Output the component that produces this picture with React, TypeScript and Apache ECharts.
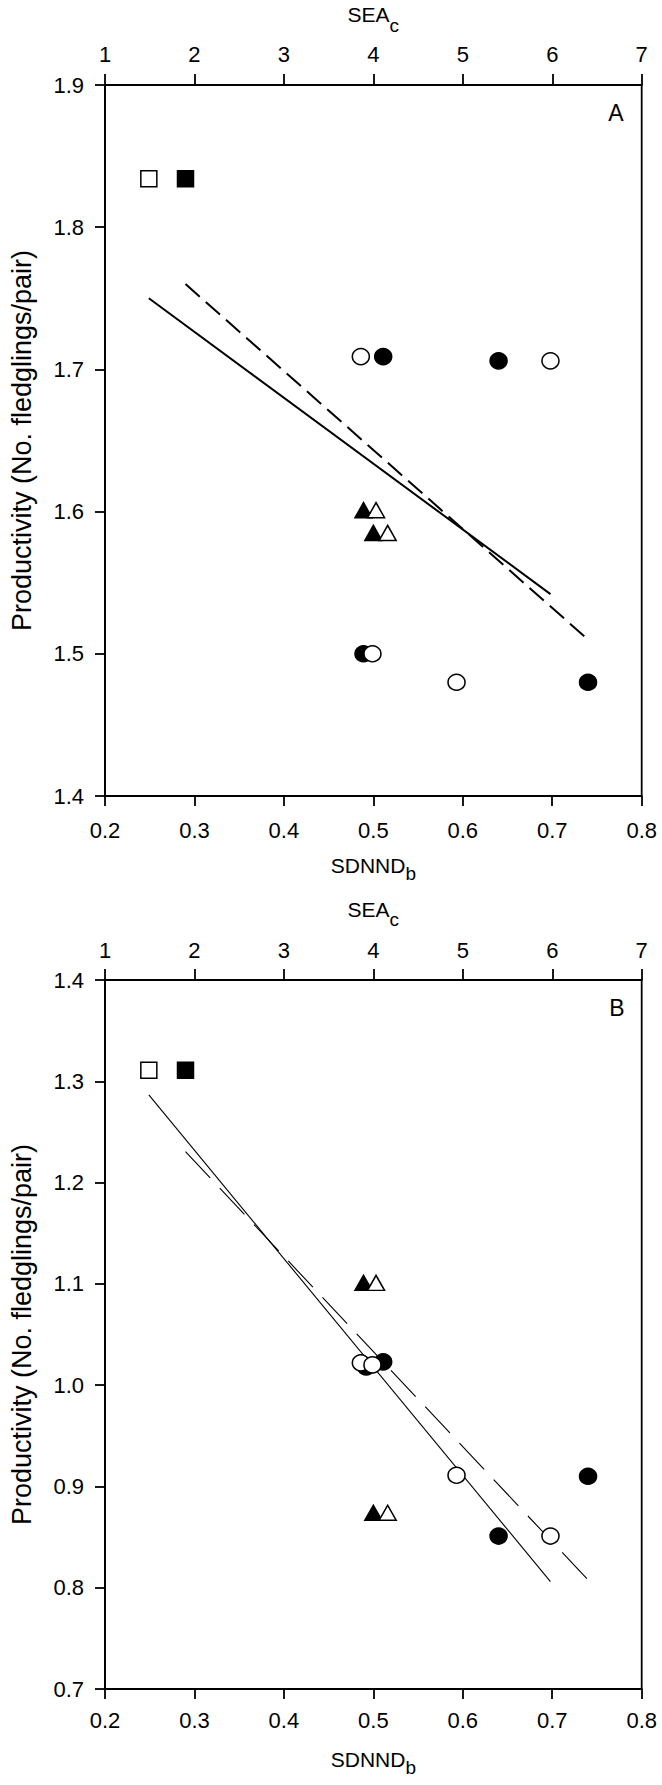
import React, { useEffect, useRef } from "react";
import * as echarts from "echarts";

const FONT = "'Liberation Sans', Arial, sans-serif";

// Axis ranges / ticks
const sdnndRange = [0.2, 0.8];
const sdnndStep = 0.1;
const seaRange = [1, 7];
const seaStep = 1;
const prodRangeA = [1.4, 1.9];
const prodRangeB = [0.7, 1.4];
const prodStep = 0.1;

// Panel A — filled symbols plotted on SDNND_b (bottom axis)
const aFilledSquare = [[0.29, 1.834]];
const aFilledTriangle = [[0.489, 1.601], [0.5, 1.585]];
const aFilledCircle = [[0.511, 1.709], [0.64, 1.706], [0.489, 1.5], [0.74, 1.48]];
// Panel A — open symbols plotted on SEA_c (top axis)
const aOpenSquare = [[1.49, 1.834]];
const aOpenTriangle = [[4.03, 1.601], [4.16, 1.585]];
const aOpenCircle = [[3.86, 1.709], [5.98, 1.706], [3.99, 1.5], [4.93, 1.48]];
// Panel A — regression lines
const aSeaFit = [[1.49, 1.75], [5.98, 1.542]];
const aSdnndFit = [[0.29, 1.76], [0.74, 1.51]];

// Panel B — filled symbols (SDNND_b)
const bFilledSquare = [[0.29, 1.311]];
const bFilledTriangle = [[0.489, 1.101], [0.5, 0.874]];
const bFilledCircle = [[0.492, 1.018], [0.511, 1.023], [0.64, 0.851], [0.74, 0.91]];
// Panel B — open symbols (SEA_c)
const bOpenSquare = [[1.49, 1.311]];
const bOpenTriangle = [[4.03, 1.101], [4.16, 0.874]];
const bOpenCircle = [[3.86, 1.022], [3.99, 1.02], [5.98, 0.851], [4.93, 0.911]];
// Panel B — regression lines
const bSeaFit = [[1.49, 1.2865], [5.98, 0.806]];
const bSdnndFit = [[0.29, 1.2305], [0.74, 0.8077]];

const panelLabels = ["A", "B"];
const yTitle = "Productivity (No. fledglings/pair)";

const BLACK = "#000";
const AXW = 1.8;
const TICK_FS = 22;
const NAME_FS = 21;
const SUB_FS = 19;

function bottomAxis(gridIndex: number, margin: number, gap: number) {
  return {
    type: "value",
    gridIndex,
    position: "bottom",
    min: sdnndRange[0],
    max: sdnndRange[1],
    interval: sdnndStep,
    axisLine: { show: true, onZero: false, lineStyle: { color: BLACK, width: AXW } },
    axisTick: { show: true, inside: false, length: 10, lineStyle: { color: BLACK, width: AXW } },
    axisLabel: {
      margin,
      color: BLACK,
      fontSize: TICK_FS,
      fontFamily: FONT,
      formatter: (v: number) => v.toFixed(1),
    },
    splitLine: { show: false },
    name: "{m|SDNND}{s|b}",
    nameLocation: "middle",
    nameGap: gap,
    nameTextStyle: {
      color: BLACK,
      rich: {
        m: { fontSize: NAME_FS, fontFamily: FONT, color: BLACK },
        s: { fontSize: SUB_FS, fontFamily: FONT, color: BLACK, padding: [16, 0, 0, 0] },
      },
    },
  };
}

function topAxis(gridIndex: number, margin: number, gap: number) {
  return {
    type: "value",
    gridIndex,
    position: "top",
    min: seaRange[0],
    max: seaRange[1],
    interval: seaStep,
    axisLine: { show: true, onZero: false, lineStyle: { color: BLACK, width: AXW } },
    axisTick: { show: true, inside: false, length: 11, lineStyle: { color: BLACK, width: AXW } },
    axisLabel: {
      margin,
      color: BLACK,
      fontSize: TICK_FS,
      fontFamily: FONT,
      formatter: (v: number) => String(Math.round(v)),
    },
    splitLine: { show: false },
    name: "{m|SEA}{s|c}",
    nameLocation: "middle",
    nameGap: gap,
    nameTextStyle: {
      color: BLACK,
      rich: {
        m: { fontSize: NAME_FS, fontFamily: FONT, color: BLACK },
        s: { fontSize: SUB_FS, fontFamily: FONT, color: BLACK, padding: [21, 0, 0, 0] },
      },
    },
  };
}

function leftAxis(gridIndex: number, range: number[]) {
  return {
    type: "value",
    gridIndex,
    position: "left",
    min: range[0],
    max: range[1],
    interval: prodStep,
    axisLine: { show: true, onZero: false, lineStyle: { color: BLACK, width: AXW } },
    axisTick: { show: true, inside: false, length: 10, lineStyle: { color: BLACK, width: AXW } },
    axisLabel: {
      margin: 21,
      color: BLACK,
      fontSize: TICK_FS,
      fontFamily: FONT,
      formatter: (v: number) => v.toFixed(1),
    },
    splitLine: { show: false },
    name: yTitle,
    nameLocation: "middle",
    nameGap: 70,
    nameTextStyle: { color: BLACK, fontSize: 27, fontFamily: FONT },
  };
}

function scatter(
  data: number[][],
  xAxisIndex: number,
  yAxisIndex: number,
  symbol: string,
  size: number[],
  filled: boolean
) {
  return {
    type: "scatter",
    data,
    xAxisIndex,
    yAxisIndex,
    symbol,
    symbolSize: size,
    silent: true,
    z: filled ? 3 : 4,
    itemStyle: {
      color: filled ? BLACK : "#fff",
      borderColor: BLACK,
      borderWidth: 1.5,
      opacity: 1,
    },
  };
}

function fitLine(
  data: number[][],
  xAxisIndex: number,
  yAxisIndex: number,
  type: any,
  width: number
) {
  return {
    type: "line",
    data,
    xAxisIndex,
    yAxisIndex,
    symbol: "none",
    silent: true,
    z: 2,
    lineStyle: { color: BLACK, width, type },
  };
}

const SQ = [16, 16];
const TRI = [17, 15];
const CIR = [17, 16];

export default function App() {
  const ref = useRef<HTMLDivElement>(null);

  useEffect(() => {
    if (!ref.current) return;
    const chart = echarts.init(ref.current, undefined, { renderer: "svg" });
    const option: any = {
      animation: false,
      backgroundColor: "#fff",
      grid: [
        { left: 96, top: 85, width: 545.7, height: 711, show: true, borderColor: BLACK, borderWidth: AXW, backgroundColor: "transparent" },
        { left: 96, top: 980, width: 545.7, height: 709, show: true, borderColor: BLACK, borderWidth: AXW, backgroundColor: "transparent" },
      ],
      xAxis: [bottomAxis(0, 23, 52), topAxis(0, 20, 50.5), bottomAxis(1, 20, 52.5), topAxis(1, 19, 51)],
      yAxis: [leftAxis(0, prodRangeA), leftAxis(1, prodRangeB)],
      series: [
        // Panel A
        fitLine(aSeaFit, 1, 0, "solid", 2),
        fitLine(aSdnndFit, 0, 0, [19, 8], 2),
        scatter(aFilledSquare, 0, 0, "rect", SQ, true),
        scatter(aFilledTriangle, 0, 0, "triangle", TRI, true),
        scatter(aFilledCircle, 0, 0, "circle", CIR, true),
        scatter(aOpenSquare, 1, 0, "rect", SQ, false),
        scatter(aOpenTriangle, 1, 0, "triangle", TRI, false),
        scatter(aOpenCircle, 1, 0, "circle", CIR, false),
        // Panel B
        fitLine(bSeaFit, 3, 1, "solid", 1.1),
        fitLine(bSdnndFit, 2, 1, [36, 14], 1.1),
        scatter(bFilledSquare, 2, 1, "rect", SQ, true),
        scatter(bFilledTriangle, 2, 1, "triangle", TRI, true),
        scatter(bFilledCircle, 2, 1, "circle", CIR, true),
        scatter(bOpenSquare, 3, 1, "rect", SQ, false),
        scatter(bOpenTriangle, 3, 1, "triangle", TRI, false),
        scatter(bOpenCircle, 3, 1, "circle", CIR, false),
      ],
      graphic: [
        {
          type: "text",
          x: 616,
          y: 113,
          style: { text: panelLabels[0], fontSize: 23, fontFamily: FONT, fill: BLACK, align: "center", verticalAlign: "middle" },
        },
        {
          type: "text",
          x: 617,
          y: 1008,
          style: { text: panelLabels[1], fontSize: 23, fontFamily: FONT, fill: BLACK, align: "center", verticalAlign: "middle" },
        },
      ],
    };
    chart.setOption(option);
    return () => chart.dispose();
  }, []);

  return (
    <div
      ref={ref}
      style={{ position: "absolute", left: 0, top: 0, width: 662, height: 1785, background: "#fff" }}
    />
  );
}
